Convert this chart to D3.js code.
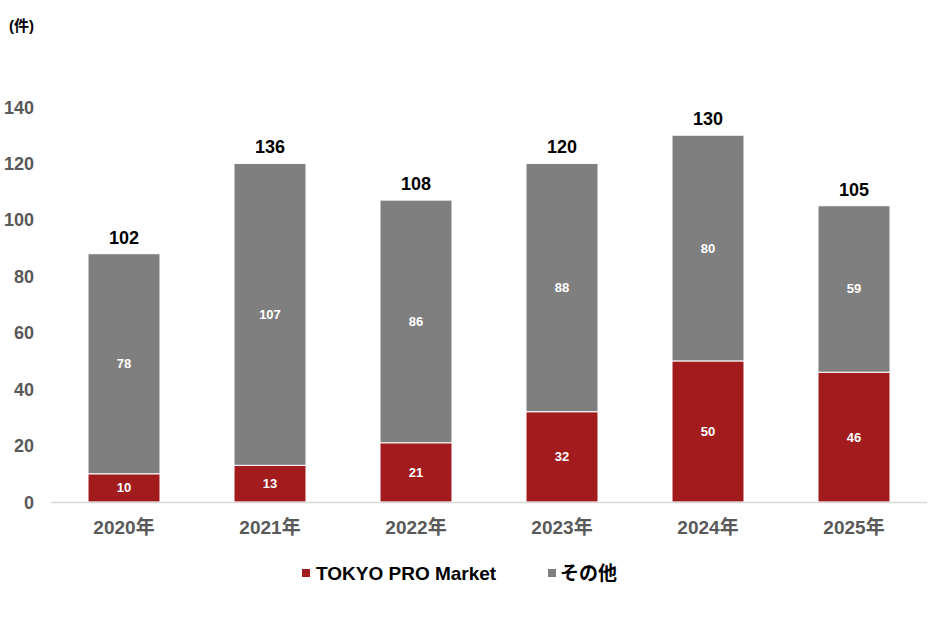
<!DOCTYPE html>
<html lang="ja">
<head>
  <meta charset="UTF-8">
  <title>TOKYO PRO Market</title>
  <style>
    html, body {
      margin: 0;
      padding: 0;
      background-color: #fff;
    }

    svg text {
      font-family: "Liberation Sans", Arial, "Noto Sans CJK JP", sans-serif;
      font-weight: bold;
    }

    .tick-label { fill: #595959; font-size: 18px; }
    .x-label { fill: #595959; font-size: 19px; }
    .total-label { fill: #000; font-size: 18px; }
    .seg-label { fill: #fff; font-size: 13px; }
    .legend-label { fill: #000; font-size: 19px; }
    .unit { fill: #000; font-size: 15px; }
  </style>
</head>
<body>
  <script src="https://d3js.org/d3.v7.min.js"></script>
  <script>
    const years = ['2020年', '2021年', '2022年', '2023年', '2024年', '2025年']
    const proMarket = [10, 13, 21, 32, 50, 46]
    const others = [78, 107, 86, 88, 80, 59]
    // totals as printed above the bars
    const totals = [102, 136, 108, 120, 130, 105]
    const yTicks = [0, 20, 40, 60, 80, 100, 120, 140]
    const seriesNames = ['TOKYO PRO Market', 'その他']
    const seriesColors = ['#A21C1E', '#7F7F7F']

    const width = 940,
          height = 628

    const x = d3.scaleBand()
      .domain(years)
      .range([51, 927])
      .paddingInner(0.507)
      .paddingOuter(0.2535)

    const y = d3.scaleLinear()
      .domain([0, 140])
      .range([502, 107])

    const svg = d3.select('body')
      .append('svg')
      .attr('width', width)
      .attr('height', height)

    // unit label
    svg.append('text')
      .attr('class', 'unit')
      .attr('x', 9)
      .attr('y', 31)
      .text('(件)')

    // y tick labels (no axis line)
    svg.append('g')
      .selectAll('text')
      .data(yTicks)
      .join('text')
        .attr('class', 'tick-label')
        .attr('x', 34)
        .attr('y', d => y(d) + 6.5)
        .attr('text-anchor', 'end')
        .text(d => d)

    const rows = years.map((year, i) => ({ year, pro: proMarket[i], other: others[i], total: totals[i] }))
    const stack = d3.stack().keys(['pro', 'other'])(rows)

    const layers = svg.append('g')
      .selectAll('g')
      .data(stack)
      .join('g')
        .attr('fill', (d, i) => seriesColors[i])

    layers.selectAll('rect')
      .data(d => d)
      .join('rect')
        .attr('x', d => x(d.data.year))
        .attr('y', d => y(d[1]))
        .attr('width', x.bandwidth())
        .attr('height', d => y(d[0]) - y(d[1]))
        .attr('stroke', '#fff')
        .attr('stroke-width', 1)

    // segment value labels
    layers.selectAll('text')
      .data(d => d.map(v => ({ v, key: d.key })))
      .join('text')
        .attr('class', 'seg-label')
        .attr('x', d => x(d.v.data.year) + x.bandwidth() / 2)
        .attr('y', d => (y(d.v[0]) + y(d.v[1])) / 2 + 4.5)
        .attr('text-anchor', 'middle')
        .text(d => d.v.data[d.key])

    // baseline
    svg.append('line')
      .attr('x1', 51)
      .attr('x2', 927)
      .attr('y1', y(0) + 0.5)
      .attr('y2', y(0) + 0.5)
      .attr('stroke', '#D9D9D9')
      .attr('stroke-width', 1.5)

    // totals
    svg.append('g')
      .selectAll('text')
      .data(rows)
      .join('text')
        .attr('class', 'total-label')
        .attr('x', d => x(d.year) + x.bandwidth() / 2)
        .attr('y', d => y(d.pro + d.other) - 10)
        .attr('text-anchor', 'middle')
        .text(d => d.total)

    // x labels
    svg.append('g')
      .selectAll('text')
      .data(years)
      .join('text')
        .attr('class', 'x-label')
        .attr('x', d => x(d) + x.bandwidth() / 2)
        .attr('y', 534)
        .attr('text-anchor', 'middle')
        .text(d => d)

    // legend
    const legendX = [302, 548]
    const legend = svg.append('g')
      .selectAll('g')
      .data(seriesNames)
      .join('g')
        .attr('transform', (d, i) => `translate(${legendX[i]}, 573)`)

    legend.append('rect')
      .attr('x', 0)
      .attr('y', -4)
      .attr('width', 8)
      .attr('height', 8)
      .attr('fill', (d, i) => seriesColors[i])

    legend.append('text')
      .attr('class', 'legend-label')
      .attr('x', (d, i) => i === 0 ? 14 : 12)
      .attr('y', 7)
      .text(d => d)
  </script>
</body>
</html>
